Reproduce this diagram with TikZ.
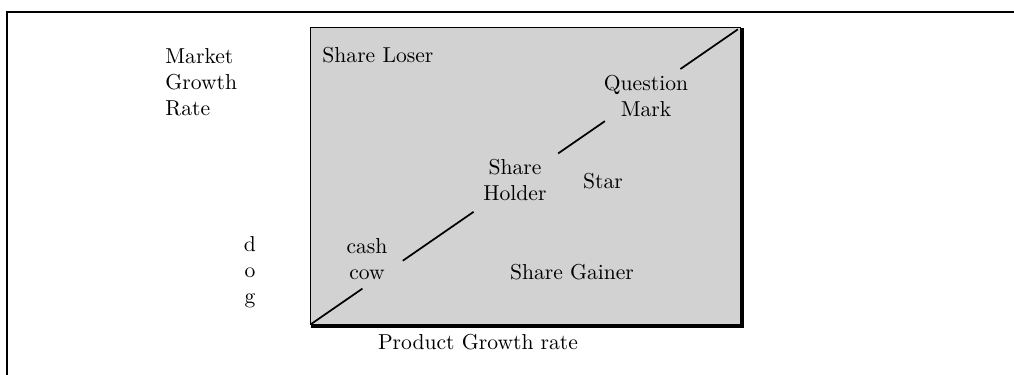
\documentclass[tikz,border=0pt]{standalone}
\usepackage{tikz}
\usetikzlibrary{positioning, calc}
\usepackage{xcolor}
\definecolor{ScreenGrey}{HTML}{D2D2D2}
\tikzset{
  % Shaded quadrant area
  quadrant/.style={
    rectangle, draw=black, line width=0.5pt,
    fill=ScreenGrey, inner sep=0pt, outer sep=0pt,
    minimum width=6.98cm, minimum height=4.82cm
  },
  % Heavy edge along right and bottom
  dropedge/.style={
    line width=2pt, draw=black
  },
  % Diagonal divider
  divider/.style={
    line width=0.8pt, draw=black
  },
  % Page frame
  frameline/.style={
    line width=1pt, draw=black
  },
  % Label inside the quadrant
  region/.style={
    align=center, inner sep=0pt, font=\normalsize
  },
  % Axis label
  axislabel/.style={
    align=left, inner sep=0pt, font=\normalsize
  }
}

\begin{document}
\begin{tikzpicture}[x=0.01627cm, y=-0.01627cm]

\useasboundingbox (0,0) rectangle (1014,375);

% Frame
\coordinate (frametop) at (1014,12);
\coordinate (framefoot) at (7,375);
\draw[frameline] (frametop) -| (framefoot);

% Quadrant
\node[quadrant] (grid) at (525.5,176) {};
\draw[dropedge] ([xshift=1pt]grid.north east)
  -- ([shift={(1pt,-1pt)}]grid.south east)
  -- ([yshift=-1pt]grid.south west);

% Diagonal
\foreach \a/\b in {0/0.12, 0.214/0.379, 0.576/0.685, 0.861/0.995}
  \draw[divider] ($(grid.south west)!\a!(grid.north east)$)
    -- ($(grid.south west)!\b!(grid.north east)$);

% Regions
\node[region, anchor=west] (loser) at (322,55) {Share Loser};
\node[region] (question) at (646,96) {Question\\Mark};
\node[region] (holder) at (515,180) {Share\\Holder};
\node[region] (star) at (603,181) {Star};
\node[region] (cow) at (367,259) {cash\\cow};
\node[region] (gainer) at (572,272) {Share Gainer};

% Axes
\node[axislabel, anchor=west] (market) at (165,82)
  {Market\\Growth\\Rate};
\node[region] (dog) at (250,272) {d\\o\\g};
\node[region] (product) at (478,342) {Product Growth rate};

\end{tikzpicture}
\end{document}
